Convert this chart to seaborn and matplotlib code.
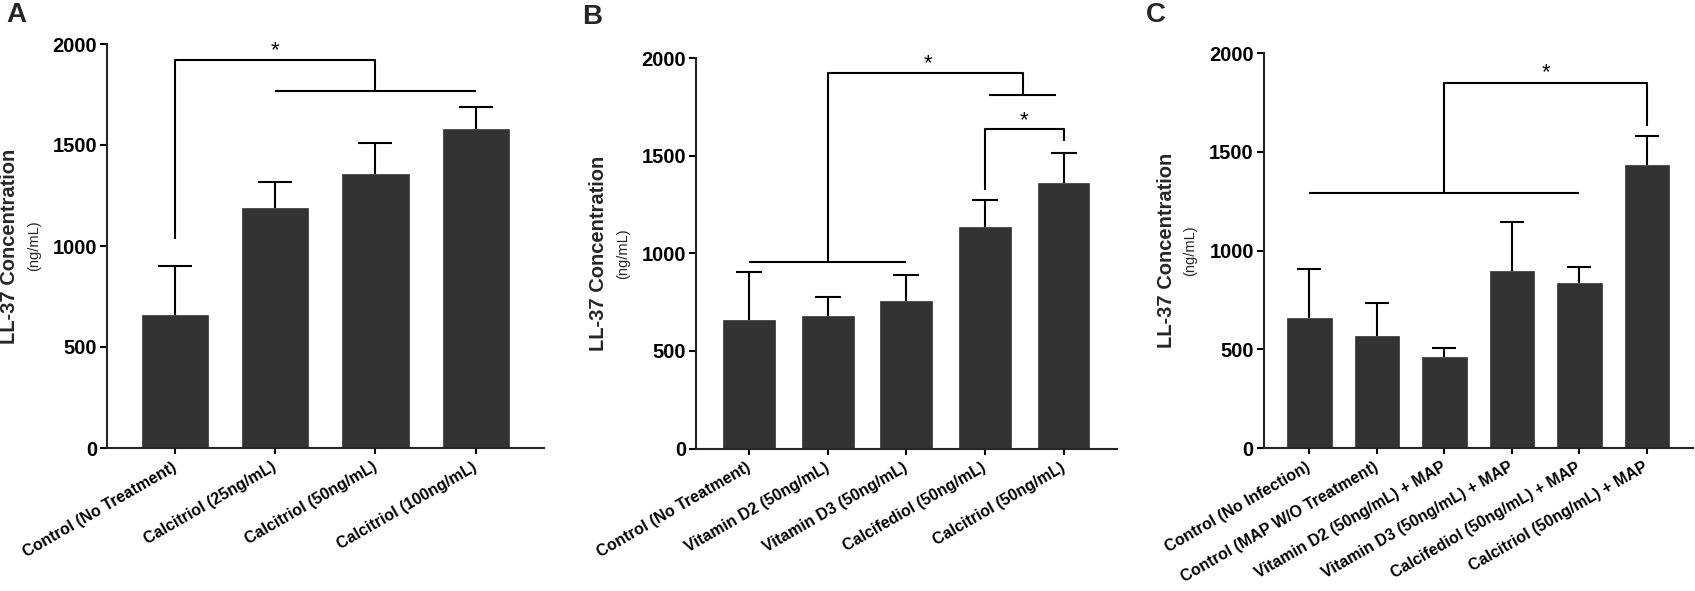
import numpy as np
import pandas as pd
import matplotlib
matplotlib.use("Agg")
import matplotlib.pyplot as plt
import seaborn as sns

# ---------------- data ----------------
cats_a = ["Control (No Treatment)", "Calcitriol (25ng/mL)", "Calcitriol (50ng/mL)", "Calcitriol (100ng/mL)"]
vals_a = [658, 1187, 1355, 1577]
err_a = [242, 130, 155, 112]

cats_b = ["Control (No Treatment)", "Vitamin D2 (50ng/mL)", "Vitamin D3 (50ng/mL)",
          "Calcifediol (50ng/mL)", "Calcitriol (50ng/mL)"]
vals_b = [659, 681, 758, 1134, 1359]
err_b = [244, 93, 130, 142, 157]

cats_c = ["Control (No Infection)", "Control (MAP W/O Treatment)", "Vitamin D2 (50ng/mL) + MAP",
          "Vitamin D3 (50ng/mL) + MAP", "Calcifediol (50ng/mL) + MAP", "Calcitriol (50ng/mL) + MAP"]
vals_c = [657, 568, 463, 897, 836, 1434]
err_c = [250, 165, 45, 248, 83, 147]

yticks = [0, 500, 1000, 1500, 2000]
ylabel_main = "LL-37 Concentration"
ylabel_sub = "(ng/mL)"

# significance brackets: (x positions, y levels) in category index / data units
# Panel A
br_a_left_leg = ([0, 0, 2, 2], [1036, 1919, 1919, 1765])
br_a_group = ([1, 3], [1765, 1765])
star_a = (1.0, 1967)
# Panel B
br_b_group1 = ([0, 2], [958, 958])
br_b_top = ([1, 1, 3.49, 3.49], [958, 1923, 1923, 1812])
br_b_group2 = ([3.05, 3.91], [1812, 1812])
star_b1 = (2.27, 1974)
br_b_pair = ([3, 3, 4, 4], [1325, 1636, 1636, 1578])
star_b2 = (3.5, 1682)
# Panel C
br_c_group = ([0, 4], [1291, 1291])
br_c_top = ([2, 2, 5, 5], [1291, 1848, 1848, 1634])
star_c = (3.5, 1902)

# ---------------- style ----------------
sns.set_style("ticks")
plt.rcParams["font.family"] = ["Liberation Sans", "DejaVu Sans"]
plt.rcParams["axes.linewidth"] = 1.5

W, H = 1695, 591
fig = plt.figure(figsize=(W / 100, H / 100), dpi=100)


def rect(x0, x1, ytop, ybot):
    return [x0 / W, 1 - ybot / H, (x1 - x0) / W, (ybot - ytop) / H]


BAR = "#333333"
LW = 1.5


def panel(r, cats, vals, errs, capsize, letter, letter_xy):
    ax = fig.add_axes(r)
    df = pd.DataFrame({"cat": cats, "val": vals})
    sns.barplot(data=df, x="cat", y="val", color=BAR, saturation=1, width=0.66,
                edgecolor=BAR, linewidth=0.5, ax=ax)
    n = len(cats)
    eb = ax.errorbar(np.arange(n), vals, yerr=[np.zeros(n), errs], fmt="none",
                     ecolor="black", elinewidth=LW, capsize=capsize, capthick=LW, clip_on=False)
    # keep only the upper caps (one-sided error bars)
    caps = eb[1]
    if len(caps) == 2:
        caps[0].set_visible(False)
    ax.set_xlim(-0.68, n - 0.32)
    ax.set_ylim(0, 2000)
    ax.set_yticks(yticks)
    ax.set_yticklabels([str(t) for t in yticks], fontweight="bold", fontsize=14.5)
    ax.set_xticks(np.arange(n))
    ax.set_xticklabels(cats, rotation=30, ha="right", va="center", rotation_mode="anchor",
                       fontweight="bold", fontsize=11.5)
    ax.tick_params(axis="y", length=5, width=LW, pad=2, colors="black")
    ax.tick_params(axis="x", length=4, width=LW, pad=9, colors="black")
    ax.set_xlabel("")
    ax.set_ylabel("")
    sns.despine(ax=ax)
    # y label (two lines)
    bb = ax.get_position()
    cx = bb.x0 * W
    cy = (1 - (bb.y0 + bb.height / 2)) * H
    fig.text((cx - 97) / W, 1 - cy / H, ylabel_main, rotation=90, ha="center", va="center",
             fontsize=14.5, fontweight="bold")
    fig.text((cx - 73) / W, 1 - cy / H, ylabel_sub, rotation=90, ha="center", va="center",
             fontsize=10.5)
    fig.text(letter_xy[0] / W, 1 - letter_xy[1] / H, letter, ha="left", va="top",
             fontsize=20, fontweight="bold")
    return ax


def bracket(ax, xs, ys):
    ax.plot(xs, ys, color="black", lw=LW, clip_on=False, solid_capstyle="butt")


def star(ax, xy):
    ax.text(xy[0], xy[1], "*", ha="center", va="center", fontsize=16, color="black")


ax_a = panel(rect(106.7, 544, 44, 448), cats_a, vals_a, err_a, 12, "A", (6, 2))
bracket(ax_a, *br_a_left_leg)
bracket(ax_a, *br_a_group)
star(ax_a, star_a)

ax_b = panel(rect(695.7, 1117, 58.3, 448.5), cats_b, vals_b, err_b, 9.2, "B", (582, 4))
bracket(ax_b, *br_b_group1)
bracket(ax_b, *br_b_top)
bracket(ax_b, *br_b_group2)
bracket(ax_b, *br_b_pair)
star(ax_b, star_b1)
star(ax_b, star_b2)

ax_c = panel(rect(1263.5, 1692.7, 53.3, 448), cats_c, vals_c, err_c, 8.5, "C", (1146, 2))
bracket(ax_c, *br_c_group)
bracket(ax_c, *br_c_top)
star(ax_c, star_c)

fig.savefig("out.png", dpi=100, facecolor="white")
